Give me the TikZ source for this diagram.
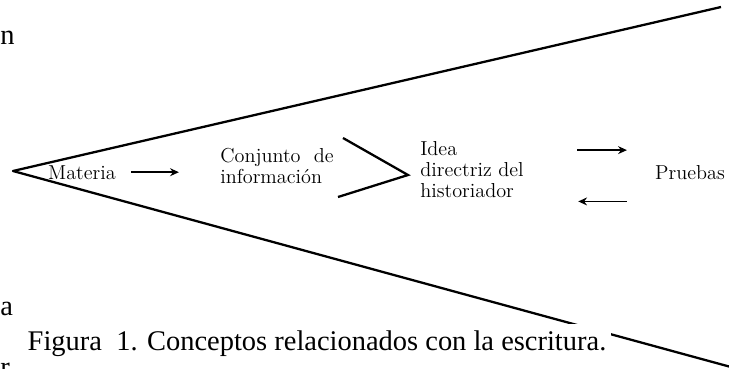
\documentclass[tikz,border=0pt]{standalone}
\usepackage{fontspec}
\newfontfamily\captionserif{Liberation Serif}
\usetikzlibrary{arrows.meta}

\begin{document}
\begin{tikzpicture}[x=0.02cm, y=-0.02cm,
    label/.style={inner sep=0pt, font=\fontsize{11.5}{12}\selectfont},
    margin/.style={anchor=base west, inner sep=0pt, font=\captionserif\fontsize{16.2}{18}\selectfont},
    edge/.style={line width=1.3pt},
    flow/.style={line width=0.9pt, -{Stealth[length=5pt, width=4.5pt]}}]
    \clip (0, 0) rectangle (729, 368);
    \fill[white] (0, 0) rectangle (729, 368);

    \coordinate (apex) at (13, 171);
    \coordinate (upper) at (721, 7);
    \coordinate (lower) at (740, 369.5);
    \draw[edge, line join=round] (upper) -- (apex) -- (lower);

    \node[margin] (n) at (0, 45) {n};
    \node[margin] (a) at (0, 315) {a};
    \node[margin] (r) at (0, 376) {r};
    \node[margin, fill=white, inner xsep=2.5pt, inner ysep=3.5pt] (caption) at (23, 350)
        {Figura\ \ 1. Conceptos relacionados con la escritura.};

    \node[label, anchor=base] (materia) at (82, 179) {Materia};
    \node[label, anchor=north west, align=left] (conjunto) at (220, 148) {Conjunto\ \ de\\información};
    \node[label, anchor=north west, align=left] (idea) at (420, 141) {Idea\\directriz\ del\\historiador};
    \node[label, anchor=base] (pruebas) at (690, 179) {Pruebas};

    \draw[flow] ([xshift=8.5pt]materia.east) -- ([xshift=35.7pt]materia.east);

    \coordinate (forktop) at (343, 138);
    \coordinate (fork) at (408, 175);
    \coordinate (forkbot) at (338, 197);
    \draw[edge] (forktop) -- (fork) -- (forkbot);

    \draw[flow] ([xshift=-44.2pt, yshift=12.5pt]pruebas.west) -- ([xshift=-15.9pt, yshift=12.5pt]pruebas.west);
    \draw[flow] ([xshift=-15.9pt, yshift=-16.7pt]pruebas.west) -- ([xshift=-43.6pt, yshift=-16.7pt]pruebas.west);
\end{tikzpicture}
\end{document}
